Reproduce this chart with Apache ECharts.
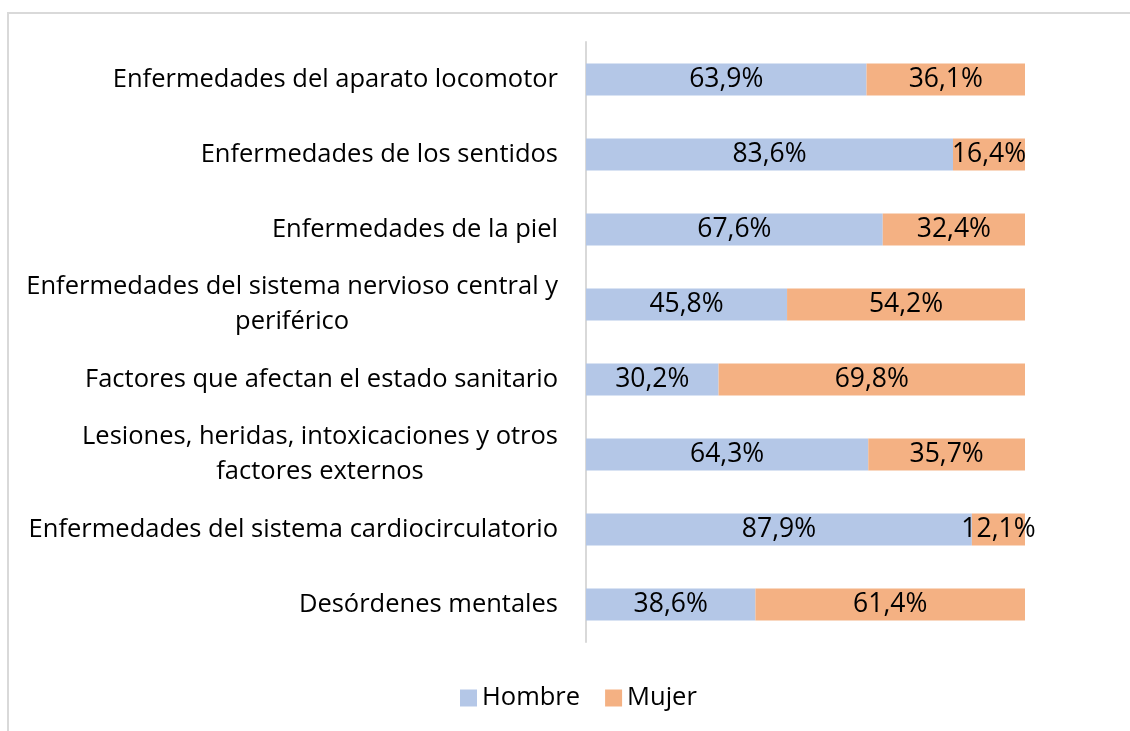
<!DOCTYPE html>
<html>
<head>
<meta charset="utf-8">
<script src="https://cdn.jsdelivr.net/npm/echarts@6/dist/echarts.min.js"></script>
<style>
  html, body { margin: 0; padding: 0; overflow: hidden; background: #fff; }
  #frame { position: absolute; left: 7px; top: 12px; width: 1300px; height: 900px; border: 2px solid #d9d9d9; box-sizing: border-box; }
  #chart { position: absolute; left: 0; top: 0; width: 1130px; height: 731px; }
</style>
</head>
<body>
<div id="frame"></div>
<div id="chart"></div>
<script>
// categorias, de arriba a abajo
const categories = [
  'Enfermedades del aparato locomotor',
  'Enfermedades de los sentidos',
  'Enfermedades de la piel',
  'Enfermedades del sistema nervioso central y\nperiférico',
  'Factores que afectan el estado sanitario',
  'Lesiones, heridas, intoxicaciones y otros\nfactores externos',
  'Enfermedades del sistema cardiocirculatorio',
  'Desórdenes mentales'
]
const hombre = [63.9, 83.6, 67.6, 45.8, 30.2, 64.3, 87.9, 38.6]
const mujer = [36.1, 16.4, 32.4, 54.2, 69.8, 35.7, 12.1, 61.4]

const FONT = 'Open Sans'
const FS = 25.5
const pct = (p) => p.value.toFixed(1).replace('.', ',') + '%'

let chart = echarts.init(document.getElementById('chart'))
chart.setOption({
  animation: false,
  textStyle: { fontFamily: FONT },
  grid: { left: 586, right: 105, top: 42, height: 600 },
  xAxis: { type: 'value', min: 0, max: 100, show: false },
  yAxis: {
    type: 'category',
    data: categories,
    inverse: true,
    axisLine: { lineStyle: { color: '#d9d9d9', width: 2 } },
    axisTick: { show: false },
    axisLabel: {
      margin: 28,
      formatter: (v) => '{c|' + v.split('\n').join('}\n{c|') + '}',
      rich: {
        c: { align: 'center', fontSize: FS, fontFamily: FONT, color: '#000', lineHeight: 35 }
      }
    }
  },
  legend: {
    bottom: 15,
    left: 455,
    itemWidth: 17,
    itemHeight: 17,
    itemGap: 25,
    icon: 'rect',
    textStyle: { fontSize: FS, color: '#000', fontFamily: FONT }
  },
  series: [
    {
      name: 'Hombre',
      type: 'bar',
      stack: 'total',
      barWidth: 32,
      data: hombre,
      itemStyle: { color: '#B4C7E7' },
      label: { show: true, position: 'inside', formatter: pct, fontSize: 26.5, color: '#000', fontFamily: FONT }
    },
    {
      name: 'Mujer',
      type: 'bar',
      stack: 'total',
      barWidth: 32,
      data: mujer,
      itemStyle: { color: '#F4B183' },
      label: { show: true, position: 'inside', formatter: pct, fontSize: 26.5, color: '#000', fontFamily: FONT }
    }
  ]
})
</script>
</body>
</html>
